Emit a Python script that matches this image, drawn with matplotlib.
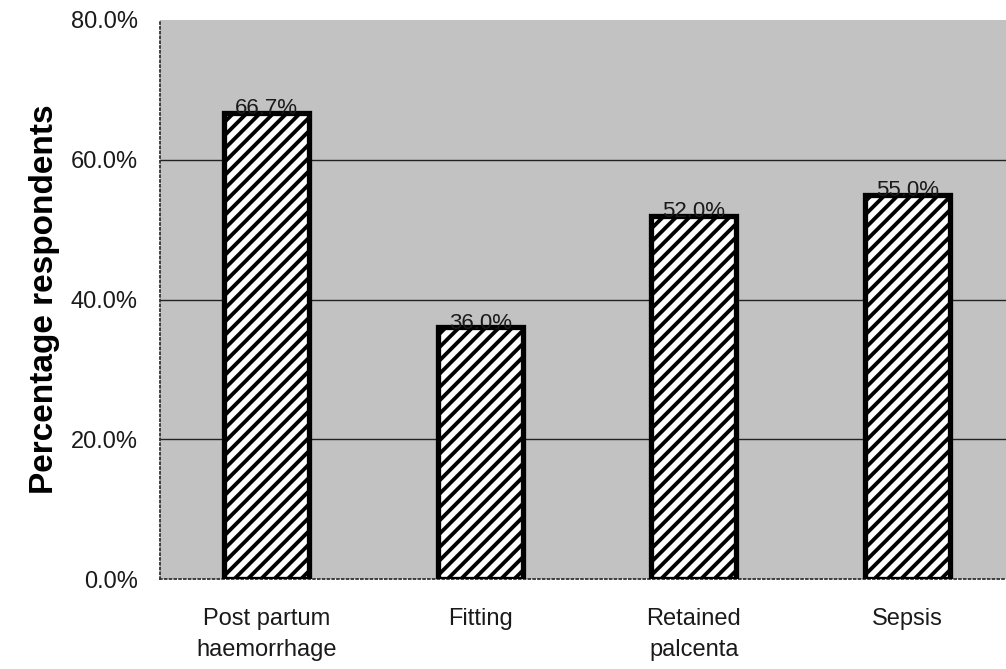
import matplotlib.pyplot as plt
import numpy as np

categories = ["Post partum\nhaemorrhage", "Fitting", "Retained\npalcenta", "Sepsis"]
values = [66.7, 36.0, 52.0, 55.0]
yticks = [0, 20, 40, 60, 80]

# render at 120 dpi so the hatch spacing comes out like the scan;
# s converts sizes picked for 100 dpi
DPI = 120
s = 100 / DPI

plt.rcParams['font.family'] = ['Liberation Sans', 'DejaVu Sans']
plt.rcParams['hatch.linewidth'] = 2.3

fig = plt.figure(figsize=(1006 / DPI, 669 / DPI), dpi=DPI)
# axes runs past the right edge, like the cropped scan
ax = fig.add_axes([160 / 1006, 90 / 669, 854 / 1006, 559 / 669])
ax.set_facecolor('#c2c2c2')

x = np.arange(len(categories))
ax.bar(x, values, width=0.40, color='white', edgecolor='black',
       linewidth=3.8 * s, hatch='///', zorder=3)

for xi, v in zip(x, values):
    ax.text(xi, v - 0.9, f"{v:.1f}%", ha='center', va='bottom',
            fontsize=16 * s, color='#1a1a1a', zorder=4)

ax.set_xlim(-0.5, 3.5)
ax.set_ylim(0, 80)
ax.set_yticks(yticks)
ax.set_yticklabels([f"{t:.1f}%" for t in yticks], fontsize=17 * s, color='#1a1a1a')
ax.set_xticks(x)
ax.set_xticklabels(categories, fontsize=17 * s, linespacing=1.5, color='#1a1a1a')
ax.tick_params(axis='y', length=0, pad=16 * s)
ax.tick_params(axis='x', length=0, pad=21 * s)

for t in [20, 40, 60]:
    ax.axhline(t, color='#222222', linewidth=1.0 * s, zorder=1)

for side in ['top', 'right']:
    ax.spines[side].set_visible(False)
for side in ['left', 'bottom']:
    ax.spines[side].set_linestyle(':')
    ax.spines[side].set_linewidth(1.3 * s)
    ax.spines[side].set_color('#333333')

ax.set_ylabel("Percentage respondents", fontsize=24 * s, fontweight='bold', labelpad=8 * s)

fig.savefig("out.png", dpi=DPI)
